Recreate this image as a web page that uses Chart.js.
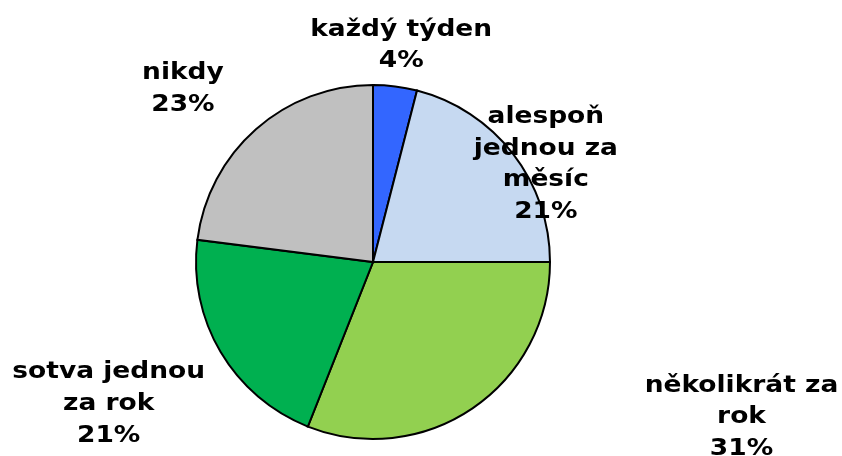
<!DOCTYPE html>
<html>
<head>
<meta charset="utf-8">
<script src="https://cdn.jsdelivr.net/npm/chart.js@4/dist/chart.umd.min.js"></script>
<style>
  html, body { margin: 0; padding: 0; background: #ffffff; }
  #wrap { width: 842px; height: 456px; }
</style>
</head>
<body>
<div id="wrap"><canvas id="c" width="842" height="456"></canvas></div>
<script>
// Data
const categories = ["každý týden", "alespoň jednou za měsíc", "několikrát za rok", "sotva jednou za rok", "nikdy"];
const labelLines = [["každý týden"], ["alespoň", "jednou za", "měsíc"], ["několikrát za", "rok"], ["sotva jednou", "za rok"], ["nikdy"]];
const shares = [4, 21, 31, 21, 23];
const colors = ["#3366FF", "#C6D9F1", "#92D050", "#00B050", "#C0C0C0"];
// label offsets (px) from the outer midpoint of each slice
const labelOffsets = [[6, -41], [33, 11], [269, 9], [-112, 52], [-73, -40]];

const labelPlugin = {
  id: 'outerLabels',
  afterDatasetsDraw(chart) {
    const ctx = chart.ctx;
    const meta = chart.getDatasetMeta(0);
    const total = shares.reduce((a, b) => a + b, 0);
    const lh = 31.7;
    meta.data.forEach((arc, i) => {
      const p = arc.getProps(['x', 'y', 'startAngle', 'endAngle', 'outerRadius'], true);
      const mid = (p.startAngle + p.endAngle) / 2;
      const ax = p.x + Math.cos(mid) * p.outerRadius + labelOffsets[i][0];
      const ay = p.y + Math.sin(mid) * p.outerRadius + labelOffsets[i][1];
      const pct = Math.round(shares[i] / total * 100) + '%';
      const lines = labelLines[i].concat([pct]);
      const top = ay - (lines.length - 1) * lh / 2;
      lines.forEach((t, j) => {
        ctx.save();
        ctx.font = 'bold 23px "DejaVu Sans", Verdana, sans-serif';
        ctx.fillStyle = '#000000';
        ctx.textAlign = 'center';
        ctx.textBaseline = 'middle';
        ctx.translate(ax, top + j * lh);
        ctx.scale(1.15, 1);
        ctx.fillText(t, 0, 0);
        ctx.restore();
      });
    });
  }
};

new Chart(document.getElementById('c'), {
  type: 'pie',
  data: {
    labels: categories,
    datasets: [{
      data: shares,
      backgroundColor: colors,
      borderColor: '#000000',
      borderWidth: 2,
      borderJoinStyle: 'miter'
    }]
  },
  options: {
    responsive: false,
    animation: false,
    layout: { padding: { left: 195, right: 291, top: 84, bottom: 16 } },
    plugins: {
      legend: { display: false },
      tooltip: { enabled: false }
    }
  },
  plugins: [labelPlugin]
});
</script>
</body>
</html>
